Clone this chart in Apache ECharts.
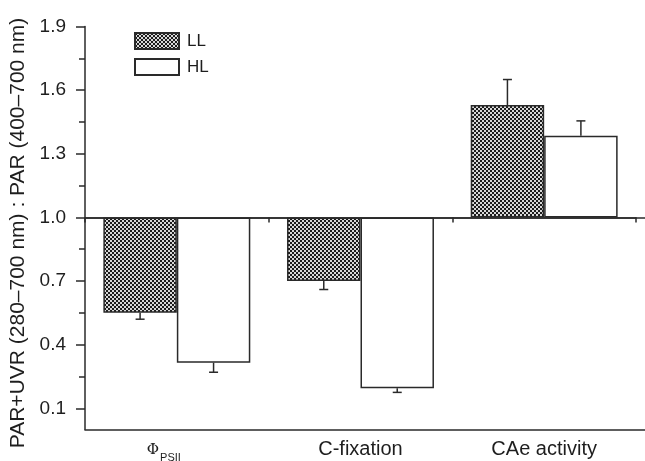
<!DOCTYPE html>
<html><head><meta charset="utf-8">
<script src="https://cdn.jsdelivr.net/npm/echarts@6/dist/echarts.min.js"></script>
<style>html,body{margin:0;padding:0;background:#fff}#c{width:645px;height:461px}</style>
</head><body><div id="c"></div>
<script>
// ---- data ----
const categories = ['Φ_PSII', 'C-fixation', 'CAe activity'];
const seriesNames = ['LL', 'HL'];
const llValues = [0.55, 0.70, 1.53];
const hlValues = [0.315, 0.195, 1.385];
const llErrors = [0.03, 0.04, 0.12];
const hlErrors = [0.045, 0.02, 0.07];
const majorTicks = [0.1, 0.4, 0.7, 1.0, 1.3, 1.6, 1.9];
const minorTicks = [0.25, 0.55, 0.85, 1.15, 1.45, 1.75];
const baseline = 1.0;
const axisMin = 0, axisMax = 1.9;
const yTitle = 'PAR+UVR (280–700 nm) : PAR (400–700 nm)';

// ---- helpers ----
const sh = v => +(v - baseline).toFixed(4);   // bars grow from the 1.0 baseline
const lineCol = '#2a2a2a';
const textCol = '#1e1e1e';

function hatchCanvas() {
  const c = document.createElement('canvas');
  c.width = 4; c.height = 4;
  const g = c.getContext('2d');
  g.fillStyle = '#d8d8d8'; g.fillRect(0, 0, 4, 4);
  g.fillStyle = '#1c1c1c'; g.fillRect(0, 0, 2, 2); g.fillRect(2, 2, 2, 2);
  return c;
}
const hatch = { image: hatchCanvas(), repeat: 'repeat' };

const gridBase = { left: 85, top: 26.5, bottom: 31.5, outerBoundsMode: 'none', containLabel: false };
const yRange = { min: sh(axisMin), max: sh(axisMax) };

const errData = [];
llValues.forEach((v, i) => errData.push([i, sh(v), llErrors[i], -1]));
hlValues.forEach((v, i) => errData.push([i, sh(v), hlErrors[i], 1]));

const chart = echarts.init(document.getElementById('c'), null, { renderer: 'canvas' });
chart.setOption({
  animation: false,
  backgroundColor: '#fff',
  textStyle: { fontFamily: 'Liberation Sans, Arial, sans-serif', color: textCol },
  grid: [
    Object.assign({ right: 9 }, gridBase),
    Object.assign({ right: 9 }, gridBase),
    Object.assign({ right: 0 }, gridBase),
    Object.assign({ right: 0 }, gridBase)
  ],
  legend: {
    orient: 'vertical', left: 134, top: 32, padding: 0,
    itemWidth: 44, itemHeight: 16, itemGap: 8, icon: 'rect',
    data: seriesNames,
    textStyle: { fontSize: 17, color: textCol, padding: [0, 0, 0, 3] }
  },
  xAxis: [
    { type: 'category', gridIndex: 0, data: categories, position: 'bottom',
      axisLine: { show: true, onZero: true, lineStyle: { color: lineCol, width: 1.5 } },
      axisTick: { show: true, alignWithLabel: false, length: 5, lineStyle: { color: lineCol, width: 1.5 } },
      axisLabel: { show: false }, splitLine: { show: false } },
    { type: 'category', gridIndex: 1, data: categories, position: 'bottom',
      axisLine: { show: false, onZero: false }, axisTick: { show: false }, splitLine: { show: false },
      axisLabel: {
        show: true, interval: 0, hideOverlap: false, margin: 10, fontSize: 20, color: textCol,
        formatter: s => {
          const p = s.split('_');
          return p.length > 1 ? '{phi|' + p[0] + '}{sub|' + p[1] + '}' : s;
        },
        rich: {
          phi: { fontSize: 15, fontFamily: 'DejaVu Serif', color: textCol, verticalAlign: 'top', padding: [3, 1, 0, 0] },
          sub: { fontSize: 11, color: textCol, verticalAlign: 'top', padding: [13, 26, 0, 0] }
        }
      } },
    { type: 'value', gridIndex: 2, min: 0, max: 1, position: 'bottom',
      axisLine: { show: true, onZero: true, lineStyle: { color: lineCol, width: 1.5 } },
      axisTick: { show: false }, axisLabel: { show: false }, splitLine: { show: false } },
    { type: 'value', gridIndex: 3, min: 0, max: 1, position: 'bottom',
      axisLine: { show: true, onZero: false, lineStyle: { color: lineCol, width: 1.5 } },
      axisTick: { show: false }, axisLabel: { show: false }, splitLine: { show: false } }
  ],
  yAxis: [
    { type: 'value', gridIndex: 0, min: yRange.min, max: yRange.max, position: 'left',
      name: yTitle, nameLocation: 'middle', nameGap: 48,
      nameTextStyle: { fontSize: 21, color: textCol, padding: [0, 10, 0, 0] },
      axisLine: { show: true, onZero: false, lineStyle: { color: lineCol, width: 1.5 } },
      axisTick: { show: true, length: 9, customValues: majorTicks.map(sh), lineStyle: { color: lineCol, width: 1.5 } },
      axisLabel: { show: true, fontSize: 19, margin: 19, color: textCol,
        customValues: majorTicks.map(sh),
        formatter: v => (v + baseline).toFixed(1) },
      splitLine: { show: false } },
    { type: 'value', gridIndex: 1, min: yRange.min, max: yRange.max, position: 'left',
      axisLine: { show: false, onZero: false },
      axisTick: { show: true, length: 6, customValues: minorTicks.map(sh), lineStyle: { color: lineCol, width: 1.5 } },
      axisLabel: { show: false }, splitLine: { show: false } },
    { type: 'value', gridIndex: 2, show: false, min: yRange.min, max: yRange.max },
    { type: 'value', gridIndex: 3, show: false, min: yRange.min, max: yRange.max }
  ],
  series: [
    { name: seriesNames[0], type: 'bar', xAxisIndex: 0, yAxisIndex: 0,
      barWidth: '40%', barGap: '0%',
      data: llValues.map(sh),
      itemStyle: { color: hatch, borderColor: lineCol, borderWidth: 1.5 } },
    { name: seriesNames[1], type: 'bar', xAxisIndex: 0, yAxisIndex: 0,
      barWidth: '40%', barGap: '0%',
      data: hlValues.map(sh),
      itemStyle: { color: '#ffffff', borderColor: lineCol, borderWidth: 1.5 } },
    { type: 'custom', xAxisIndex: 0, yAxisIndex: 0, z: 3, silent: true,
      data: errData,
      renderItem: (params, api) => {
        const cat = api.value(0), v = api.value(1), e = api.value(2), side = api.value(3);
        const band = api.size([1, 0])[0];
        const p0 = api.coord([cat, v]);
        const dir = v < 0 ? -1 : 1;
        const p1 = api.coord([cat, v + dir * e]);
        const x = p0[0] + side * band * 0.2;
        const st = { stroke: lineCol, lineWidth: 1.5 };
        return { type: 'group', children: [
          { type: 'line', shape: { x1: x, y1: p0[1], x2: x, y2: p1[1] }, style: st },
          { type: 'line', shape: { x1: x - 4.5, y1: p1[1], x2: x + 4.5, y2: p1[1] }, style: st }
        ] };
      } }
  ]
});
</script></body></html>
